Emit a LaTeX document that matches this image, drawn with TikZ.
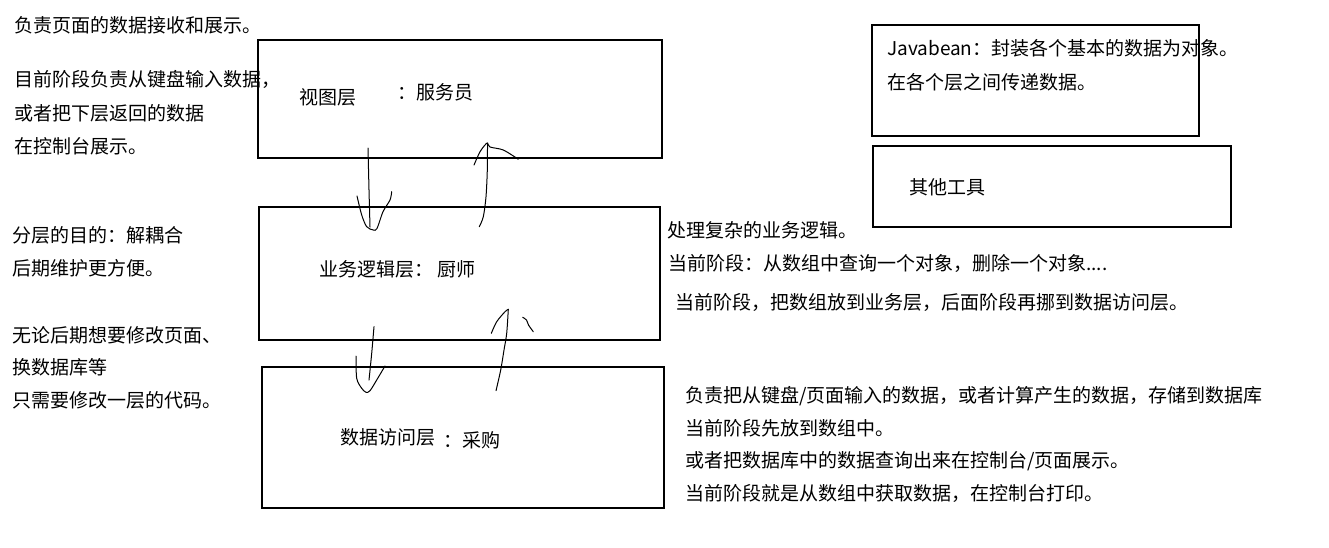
\documentclass[tikz,border=0pt]{standalone}
\usepackage{fontspec}
\setmainfont{Noto Sans CJK SC}
\begin{document}
\begin{tikzpicture}[x=1pt,y=-1pt,
  box/.style={draw=black,line width=1.2pt,inner sep=0pt,fill=none},
  big/.style={anchor=west,inner sep=0pt,font=\fontsize{19}{23}\selectfont},
  small/.style={anchor=west,inner sep=0pt,font=\fontsize{19}{23}\selectfont},
  hand/.style={draw=black,line width=1pt,line cap=round,line join=round}]
\useasboundingbox[fill=white] (0,0) rectangle (1329,547);
% boxes
\node[box,minimum width=404pt,minimum height=118pt] (view) at (460,99) {};
\node[box,minimum width=401pt,minimum height=133pt] (logic) at (459.5,273.5) {};
\node[box,minimum width=402pt,minimum height=141pt] (data) at (463,437.5) {};
\node[box,minimum width=327pt,minimum height=111pt] (bean) at (1035.5,80.5) {};
\node[box,minimum width=358pt,minimum height=81pt] (tools) at (1052,186.5) {};
% box labels
\node[big] (viewA) at (299,97) {视图层};
\node[big] (viewB) at (397,92) {：服务员};
\node[big] (logicA) at (319,269) {业务逻辑层： 厨师};
\node[big] (dataA) at (340,437) {数据访问层};
\node[big] (dataB) at (443,440) {：采购};
\node[big] (beanA) at (887,48) {Javabean：封装各个基本的数据为对象。};
\node[big] (beanB) at (887,82) {在各个层之间传递数据。};
\node[big] (toolsA) at (909,187) {其他工具};
% left notes
\node[big] (l1) at (14,25) {负责页面的数据接收和展示。};
\node[big] (l2) at (14,79) {目前阶段负责从键盘输入数据，};
\node[big] (l3) at (14,113) {或者把下层返回的数据};
\node[big] (l4) at (14,146) {在控制台展示。};
\node[big] (m1) at (12,235) {分层的目的：解耦合};
\node[big] (m2) at (12,268) {后期维护更方便。};
\node[big] (m3) at (12,335) {无论后期想要修改页面、};
\node[big] (m4) at (12,367) {换数据库等};
\node[big] (m5) at (12,400) {只需要修改一层的代码。};
% right notes
\node[small] (r1) at (667,230) {处理复杂的业务逻辑。};
\node[small] (r2) at (668,263) {当前阶段：从数组中查询一个对象，删除一个对象....};
\node[small] (r3) at (675,302) {当前阶段，把数组放到业务层，后面阶段再挪到数据访问层。};
\node[small] (b1) at (685,396) {负责把从键盘/页面输入的数据，或者计算产生的数据，存储到数据库};
\node[small] (b2) at (685,428) {当前阶段先放到数组中。};
\node[small] (b3) at (685,461) {或者把数据库中的数据查询出来在控制台/页面展示。};
\node[small] (b4) at (685,493) {当前阶段就是从数组中获取数据，在控制台打印。};
% hand-drawn arrows
% view -> logic
\coordinate (a1s) at (368,148);
\coordinate (a1e) at (370,227);
\draw[hand] (a1s) -- (369,190) -- (a1e);
\draw[hand] plot[smooth] coordinates {(357,196) (361.7,215) (366.7,226.7) (373.3,230) (377,228.5) (383,211.7) (390,200) (391.7,191.7)};
% logic -> view
\coordinate (a2s) at (479.3,226.7);
\coordinate (a2e) at (487.5,143);
\draw[hand] plot[smooth] coordinates {(a2s) (483.3,216.7) (486,196.7) (487.3,170) (a2e)};
\draw[hand] plot[smooth] coordinates {(474,165) (480,151.7) (485,145) (a2e) (490,147) (503.3,150) (518.3,159.3)};
% logic -> data
\coordinate (a3s) at (374,326.7);
\coordinate (a3e) at (369,380);
\draw[hand] plot[smooth] coordinates {(a3s) (371.7,353.3) (a3e)};
\draw[hand] plot[smooth] coordinates {(356,356) (356.7,378.3) (361.7,388.3) (366,392.3) (370,390.7) (376.7,380) (385,366)};
% data -> logic
\coordinate (a4s) at (496,390.7);
\coordinate (a4e) at (508.3,309.3);
\draw[hand] plot[smooth] coordinates {(a4s) (500.7,370) (504,350) (506.7,333.3) (a4e)};
\draw[hand] plot[smooth] coordinates {(491.3,333.3) (496.7,321.7) (505,311.7) (a4e)};
\draw[hand] plot[smooth] coordinates {(522.7,317.3) (526.5,320) (528.5,325) (533.3,331.7)};
\end{tikzpicture}
\end{document}
